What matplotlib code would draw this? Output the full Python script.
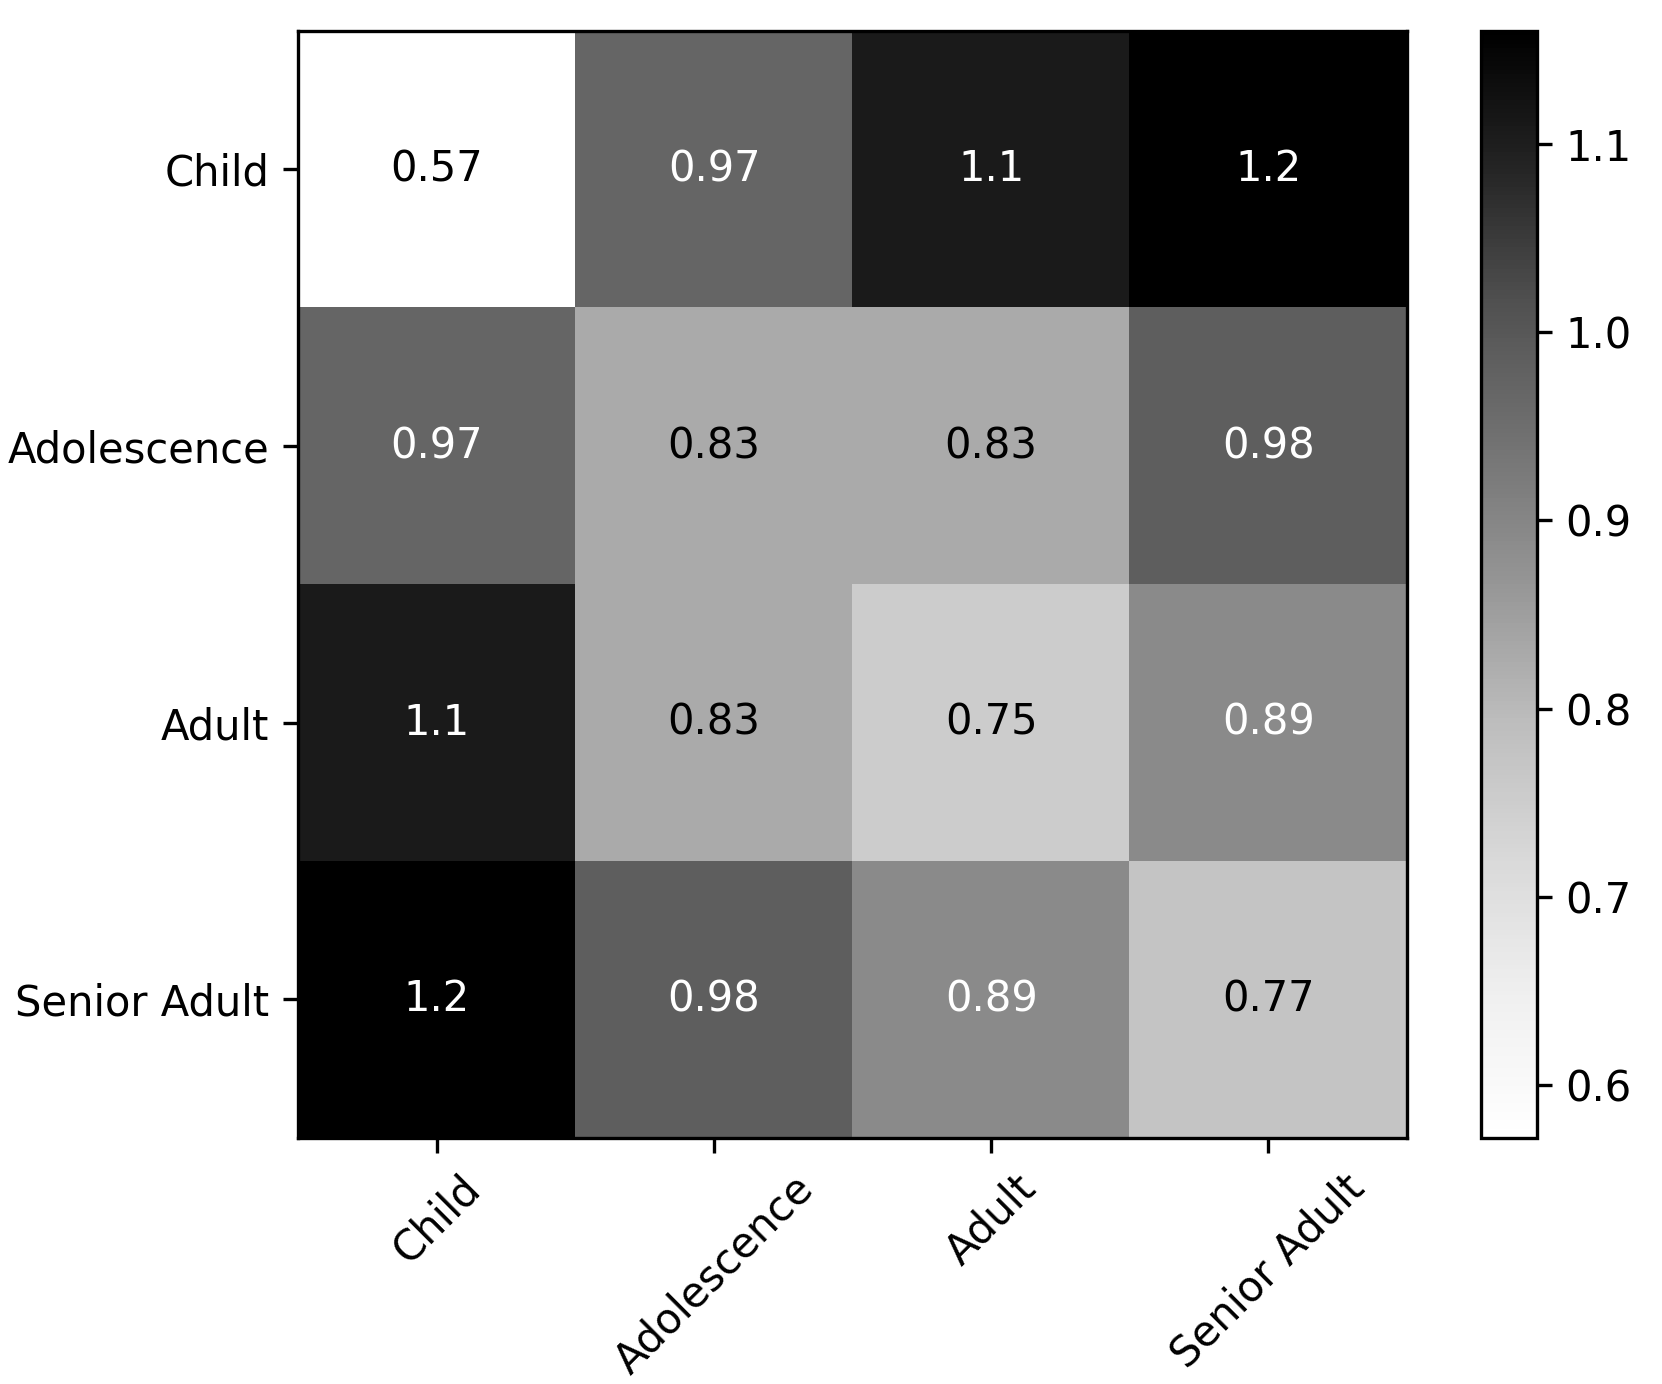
import matplotlib
matplotlib.use("Agg")
import matplotlib.pyplot as plt
import numpy as np

labels = ["Child", "Adolescence", "Adult", "Senior Adult"]
row_child = [0.572, 0.968, 1.107, 1.160]
row_adol = [0.968, 0.828, 0.828, 0.984]
row_adult = [1.107, 0.828, 0.753, 0.891]
row_senior = [1.160, 0.984, 0.891, 0.774]

data = np.array([row_child, row_adol, row_adult, row_senior])

fig = plt.figure(figsize=(1662 / 300, 1384 / 300), dpi=300)
ax = fig.add_axes([0.1795, 0.178, 0.667, 0.7995])
cax = fig.add_axes([0.891, 0.178, 0.0335, 0.7995])

vmin, vmax = data.min(), data.max()
im = ax.imshow(data, cmap="Greys", vmin=vmin, vmax=vmax, aspect="auto")
fig.colorbar(im, cax=cax)

ax.set_xticks(np.arange(len(labels)))
ax.set_yticks(np.arange(len(labels)))
ax.set_xticklabels(labels, rotation=45)
ax.set_yticklabels(labels)

thresh = (vmin + vmax) / 2
for i in range(data.shape[0]):
    for j in range(data.shape[1]):
        v = data[i, j]
        ax.text(j, i, f"{v:.2g}", ha="center", va="center",
                color="white" if v > thresh else "black", fontsize=10)

fig.savefig("out.png", dpi=300)
